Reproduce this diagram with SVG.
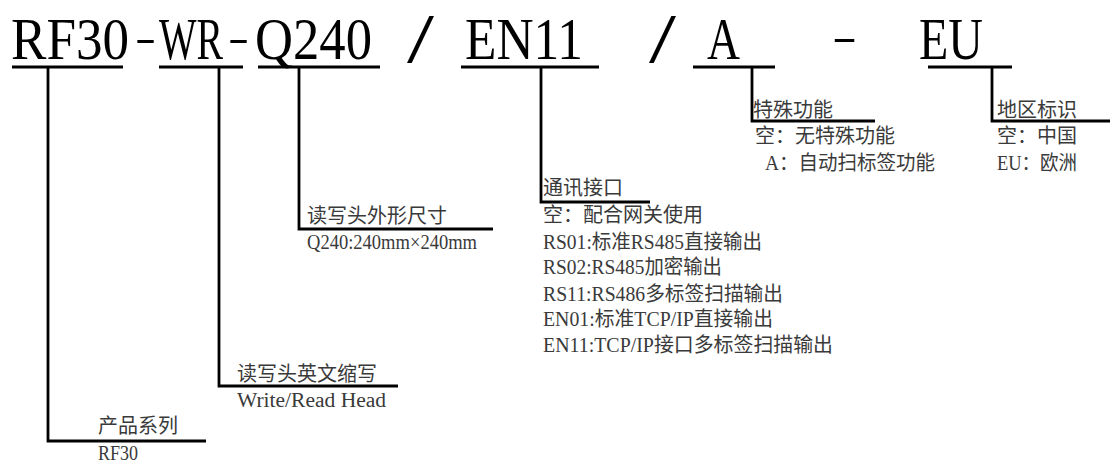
<svg xmlns="http://www.w3.org/2000/svg" width="1110" height="462" viewBox="0 0 1110 462">
<style>
.t{font-family:"Liberation Serif","Noto Sans CJK SC",serif;font-size:60px;fill:#000}
.d{font-family:"Liberation Serif",serif;font-size:40px;fill:#000}
.s{font-family:"Liberation Serif",serif;font-size:70px;fill:#000}
.l{font-family:"Liberation Serif","Noto Sans CJK SC",serif;font-size:20px;fill:#3a3a3a}
.u{stroke:#000;stroke-width:3;fill:none}
.c{stroke:#000;stroke-width:2.8;fill:none}
</style>
<rect width="1110" height="462" fill="#fff"/>
<g id="code-rf30"><text class="t" x="11" y="59" textLength="118" lengthAdjust="spacingAndGlyphs">RF30</text><line class="u" x1="12" y1="67" x2="123" y2="67"/></g>
<g id="sep1"><text class="d" x="135" y="51" textLength="21" lengthAdjust="spacingAndGlyphs">-</text></g>
<g id="code-wr"><text class="t" x="159" y="59" textLength="64" lengthAdjust="spacingAndGlyphs">WR</text><line class="u" x1="159" y1="67" x2="243" y2="67"/></g>
<g id="sep2"><text class="d" x="228" y="51" textLength="21" lengthAdjust="spacingAndGlyphs">-</text></g>
<g id="code-q240"><text class="t" x="255" y="59" textLength="117" lengthAdjust="spacingAndGlyphs">Q240</text><line class="u" x1="258" y1="67" x2="380" y2="67"/></g>
<g id="sep3"><text class="s" x="407" y="62" textLength="27" lengthAdjust="spacingAndGlyphs">/</text></g>
<g id="code-en11"><text class="t" x="465" y="59" textLength="118" lengthAdjust="spacingAndGlyphs">EN11</text><line class="u" x1="461" y1="67" x2="599" y2="67"/></g>
<g id="sep4"><text class="s" x="649" y="62" textLength="27" lengthAdjust="spacingAndGlyphs">/</text></g>
<g id="code-a"><text class="t" x="707" y="59" textLength="33" lengthAdjust="spacingAndGlyphs">A</text><line class="u" x1="693" y1="67" x2="775" y2="67"/></g>
<g id="sep5"><text class="d" x="832" y="50" textLength="25" lengthAdjust="spacingAndGlyphs">-</text></g>
<g id="code-eu"><text class="t" x="919" y="59" textLength="64" lengthAdjust="spacingAndGlyphs">EU</text><line class="u" x1="928" y1="67" x2="1012" y2="67"/></g>

<g id="connectors">
<path class="c" d="M48 67V441H206"/>
<path class="c" d="M219 67V386H398"/>
<path class="c" d="M299 67V229H493"/>
<path class="c" d="M541 67V202H650"/>
<path class="c" d="M752 67V121H875"/>
<path class="c" d="M992 67V121H1110"/>
</g>

<g id="label-series"><text class="l" x="98" y="433">产品系列</text><text class="l" x="98" y="460" textLength="40" lengthAdjust="spacingAndGlyphs">RF30</text></g>
<g id="label-wr"><text class="l" x="237" y="381">读写头英文缩写</text><text class="l" x="237" y="407" textLength="149" lengthAdjust="spacingAndGlyphs">Write/Read Head</text></g>
<g id="label-size"><text class="l" x="307" y="223">读写头外形尺寸</text><text class="l" x="307" y="249" textLength="170" lengthAdjust="spacingAndGlyphs">Q240:240mm×240mm</text></g>
<g id="label-comm"><text class="l" x="543" y="195">通讯接口</text>
<text class="l" x="543" y="222">空：配合网关使用</text>
<text class="l" x="543" y="249" textLength="219" lengthAdjust="spacingAndGlyphs">RS01:标准RS485直接输出</text>
<text class="l" x="543" y="274" textLength="179" lengthAdjust="spacingAndGlyphs">RS02:RS485加密输出</text>
<text class="l" x="543" y="301" textLength="240" lengthAdjust="spacingAndGlyphs">RS11:RS486多标签扫描输出</text>
<text class="l" x="543" y="326" textLength="230" lengthAdjust="spacingAndGlyphs">EN01:标准TCP/IP直接输出</text>
<text class="l" x="543" y="352" textLength="290" lengthAdjust="spacingAndGlyphs">EN11:TCP/IP接口多标签扫描输出</text></g>
<g id="label-special"><text class="l" x="753" y="117">特殊功能</text>
<text class="l" x="755" y="143">空：无特殊功能</text>
<text class="l" x="765" y="170" textLength="170" lengthAdjust="spacingAndGlyphs">A：自动扫标签功能</text></g>
<g id="label-region"><text class="l" x="997" y="117">地区标识</text>
<text class="l" x="997" y="143">空：中国</text>
<text class="l" x="997" y="170" textLength="80" lengthAdjust="spacingAndGlyphs">EU：欧洲</text></g>
</svg>
